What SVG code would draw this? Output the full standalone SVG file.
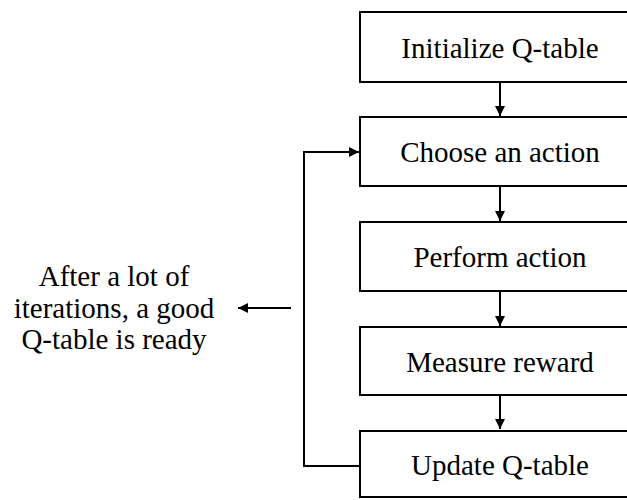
<svg xmlns="http://www.w3.org/2000/svg" width="627" height="500" viewBox="0 0 627 500">
  <defs>
    <marker id="arrow" viewBox="0 0 10 10" refX="10" refY="5" markerWidth="10" markerHeight="10" markerUnits="userSpaceOnUse" orient="auto">
      <path d="M0,0 L10,5 L0,10 Z" fill="#000"/>
    </marker>
    <style>
      .box { fill: #fff; stroke: #000; stroke-width: 2; }
      .lbl { font-family: "Liberation Serif", "Times New Roman", serif; font-size: 29px; fill: #000; text-anchor: middle; }
      .edge { fill: none; stroke: #000; stroke-width: 2; }
    </style>
  </defs>
  <rect width="627" height="500" fill="#fff"/>

  <!-- connectors -->
  <g id="connectors">
    <line class="edge" x1="500" y1="82" x2="500" y2="116" marker-end="url(#arrow)"/>
    <line class="edge" x1="500" y1="186" x2="500" y2="221" marker-end="url(#arrow)"/>
    <line class="edge" x1="500" y1="291" x2="500" y2="326" marker-end="url(#arrow)"/>
    <line class="edge" x1="500" y1="395" x2="500" y2="429" marker-end="url(#arrow)"/>
    <polyline class="edge" points="360,466 304,466 304,152 359,152" marker-end="url(#arrow)"/>
    <line class="edge" x1="291" y1="308" x2="238" y2="308" marker-end="url(#arrow)"/>
  </g>

  <!-- process steps -->
  <g id="init">
    <rect class="box" x="360" y="12" width="290" height="70"/>
    <text class="lbl" x="500" y="58">Initialize Q-table</text>
  </g>
  <g id="choose">
    <rect class="box" x="360" y="117" width="290" height="69"/>
    <text class="lbl" x="500" y="162">Choose an action</text>
  </g>
  <g id="perform">
    <rect class="box" x="360" y="222" width="290" height="69"/>
    <text class="lbl" x="500" y="267">Perform action</text>
  </g>
  <g id="measure">
    <rect class="box" x="360" y="327" width="290" height="68"/>
    <text class="lbl" x="500" y="372">Measure reward</text>
  </g>
  <g id="update">
    <rect class="box" x="360" y="431" width="290" height="66"/>
    <text class="lbl" x="500" y="475">Update Q-table</text>
  </g>

  <!-- outcome note -->
  <g id="result">
    <text class="lbl" x="114" y="286">After a lot of</text>
    <text class="lbl" x="114" y="318">iterations, a good</text>
    <text class="lbl" x="114" y="349">Q-table is ready</text>
  </g>
</svg>
